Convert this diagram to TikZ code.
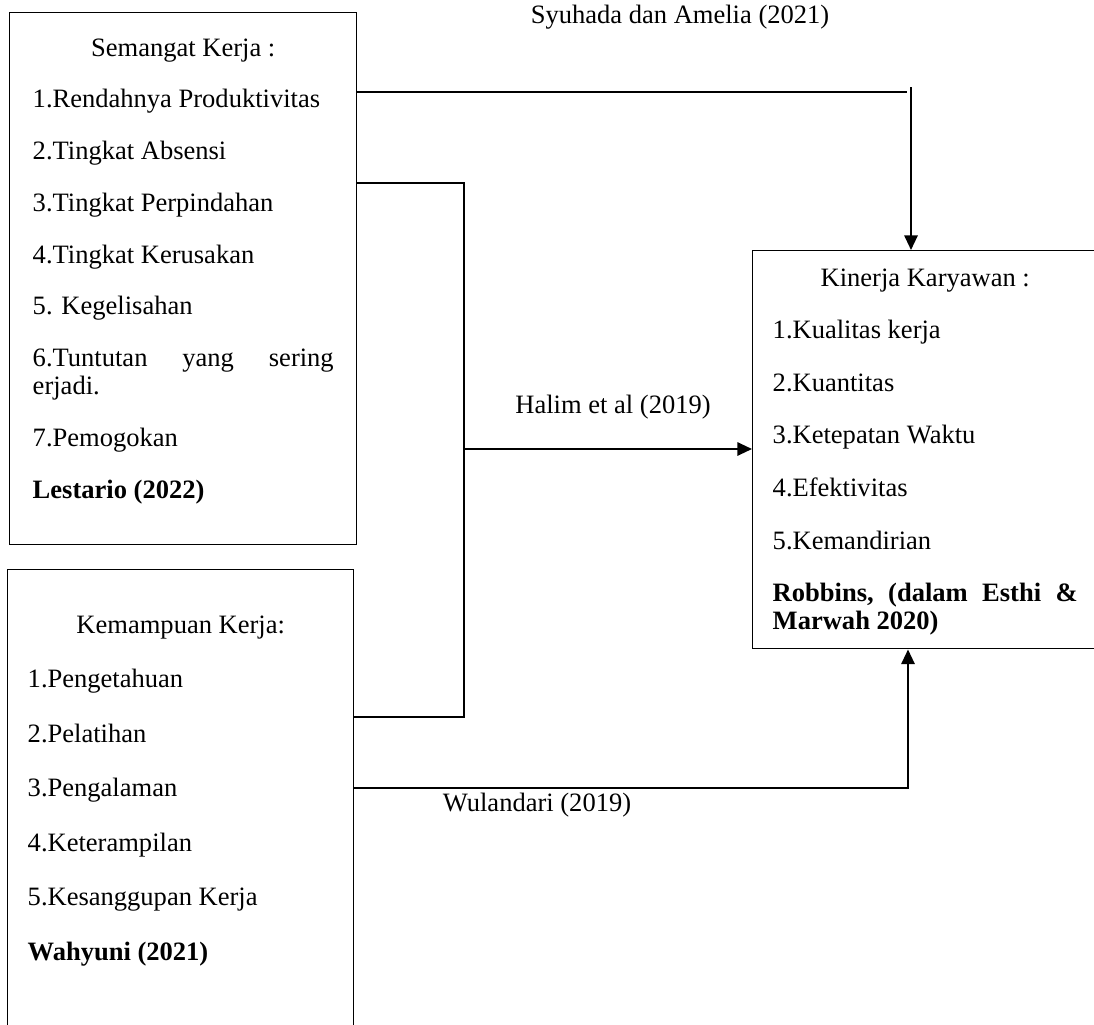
\documentclass[tikz,border=0pt]{standalone}
\usepackage{fontspec}
\setmainfont{Liberation Serif}
\usepackage{tikz}
\usetikzlibrary{arrows.meta}
\usetikzlibrary{positioning,calc}
\newcommand{\isi}[4]{% box text: width, height, parskip, body
\begin{minipage}[t][#2][t]{#1}
\fontsize{19.9pt}{21pt}\selectfont
\setlength{\parskip}{#3}%
#4
\end{minipage}%
}
\tikzset{
    bx/.style={ % variable box
        rectangle,
        draw=black,
        line width=1.1pt,
        inner ysep=0pt,
        anchor=north west
        },
    lbl/.style={ % source label on a connector
        inner sep=0pt,
        font=\fontsize{19.9pt}{21pt}\selectfont
        },
    ln/.style={
        line width=1.5pt
        },
    arrout/.style={
        ln,
        -{Triangle[length=11pt,width=10pt]}
        }
}

\begin{document}
\begin{tikzpicture}[x=0.75pt,y=-0.75pt]
		\useasboundingbox (0,0) rectangle (1094,1024);
		\clip (0,0) rectangle (1094,1024);
		
		%%%%% node n1 
		\node[bx,inner xsep=17.25pt] (n1) at (9,12) {
			\isi{225.75pt}{399pt}{17.8pt}{
				\vspace*{19.4pt}
				{\centering Semangat Kerja :\par}
				1.Rendahnya Produktivitas\par
				2.Tingkat Absensi\par
				3.Tingkat Perpindahan\par
				4.Tingkat Kerusakan\par
				5. Kegelisahan\par
				6.Tuntutan\hfill yang\hfill sering\\erjadi.\par
				7.Pemogokan\par
				\textbf{Lestario (2022)}\par}};
		
		%%%%% node n2 
		\node[bx,inner xsep=15pt] (n2) at (7,569) {
			\isi{229.5pt}{352.5pt}{19.9pt}{
				\vspace*{34.4pt}
				{\centering Kemampuan Kerja:\par}
				1.Pengetahuan\par
				2.Pelatihan\par
				3.Pengalaman\par
				4.Keterampilan\par
				5.Kesanggupan Kerja\par
				\textbf{Wahyuni (2021)}\par}};
		
		%%%%% node n3 
		\node[bx,inner xsep=15pt] (n3) at (752,250) {
			\isi{228.75pt}{298.5pt}{18.45pt}{
				\vspace*{13.4pt}
				{\centering Kinerja Karyawan :\par}
				1.Kualitas kerja\par
				2.Kuantitas\par
				3.Ketepatan Waktu\par
				4.Efektivitas\par
				5.Kemandirian\par
				\textbf{Robbins,\hfill (dalam\hfill Esthi\hfill \&\\Marwah 2020)}\par}};
		
		%%%%% edge e1
		\coordinate (k1) at (907,92);
		\coordinate (k2) at (911,87);
		\draw[ln] (n1.east |- k1) -- (k1);
		\draw[arrout] (k2) -- (k2 |- n3.north);
		\node[lbl] (t1) at (680,17) {Syuhada dan Amelia (2021)};
		
		%%%%% edge e2
		\coordinate (k3) at (464,183);
		\coordinate (k4) at (464,717);
		\coordinate (k5) at (464,449);
		\draw[ln] (n1.east |- k3) -- (k3) -- (k4) -- (k4 -| n2.east);
		\draw[arrout] (k5) -- (k5 -| n3.west);
		\node[lbl] (t2) at (613,407) {Halim et al (2019)};
		
		%%%%% edge e3
		\coordinate (k6) at (908,788);
		\draw[arrout] (n2.east |- k6) -- (k6) -- (k6 |- n3.south);
		\node[lbl] (t3) at (537,805) {Wulandari (2019)};
\end{tikzpicture}
\end{document}
